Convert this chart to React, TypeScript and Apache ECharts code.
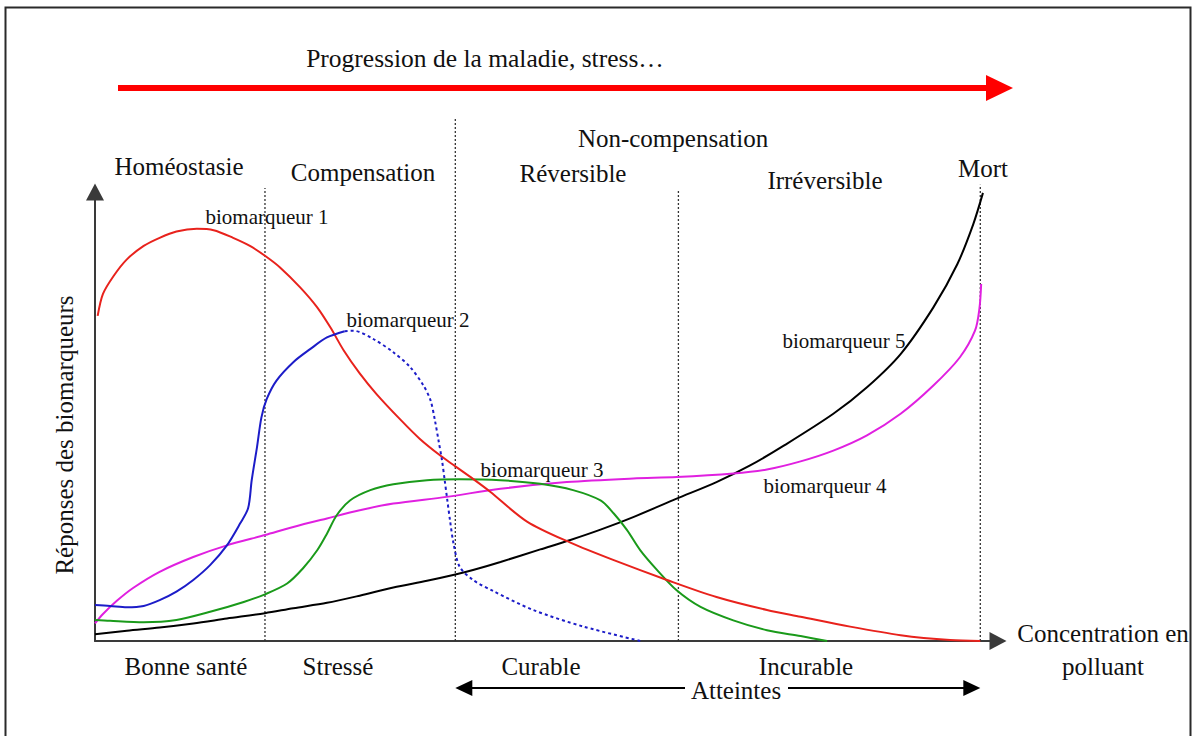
import React, { useEffect, useRef } from "react";
import * as echarts from "echarts";

// Schematic units: x = pollutant concentration (0–100, death at 100), y = biomarker response (0–100)
const biomarqueur1: number[][] = [
  [0.3, 72.4], [0.9, 77.3], [2.1, 81.3], [3.6, 85.0], [5.5, 88.0], [7.3, 89.8], [9.2, 91.2],
  [11.5, 91.8], [13.4, 91.5], [15.6, 89.8], [17.5, 88.0], [19.2, 85.8], [20.9, 83.2], [23.2, 78.7],
  [25.1, 74.3], [26.6, 69.8], [28.1, 64.7], [29.9, 59.6], [31.8, 55.0], [34.5, 49.3], [36.7, 45.0],
  [39.0, 41.3], [40.7, 38.9], [42.7, 36.1], [44.6, 33.3], [48.8, 26.6], [53.7, 21.9], [58.6, 18.0],
  [64.6, 13.6], [70.2, 9.8], [75.9, 6.9], [79.7, 5.4], [85.3, 3.2], [91.0, 1.3], [96.6, 0.2], [100, 0],
];
const biomarqueur2: number[][] = [
  [0, 8.0], [1.7, 7.8], [3.6, 7.5], [5.5, 7.8], [7.3, 9.1], [9.2, 11.0], [11.1, 13.6], [13.0, 16.9],
  [14.9, 21.3], [16.4, 26.2], [17.3, 29.6], [17.7, 35.8], [18.3, 43.2], [18.8, 49.8], [19.4, 53.9],
  [20.5, 58.0], [22.4, 62.1], [24.3, 65.0], [26.2, 67.6], [28.2, 69.0],
];
const biomarqueur2Declin: number[][] = [
  [28.2, 69.0], [29.2, 69.1], [31.4, 67.3], [33.7, 64.3], [35.6, 61.0], [37.1, 56.9], [37.9, 53.6],
  [38.4, 49.1], [38.8, 44.7], [39.2, 40.2], [39.5, 35.8], [39.8, 31.3], [40.1, 26.9], [40.5, 21.7],
  [41.2, 16.5], [42.7, 13.6], [45.0, 11.1], [49.5, 6.9], [55.2, 3.2], [61.6, 0],
];
const biomarqueur3: number[][] = [
  [0, 4.7], [1.7, 4.5], [5.5, 4.2], [9.2, 4.7], [13.0, 6.5], [16.8, 8.7], [19.2, 10.4], [21.7, 12.8],
  [23.5, 16.2], [25.1, 20.2], [26.2, 23.9], [27.3, 28.0], [28.8, 31.3], [31.1, 33.6], [33.7, 34.9],
  [37.5, 35.8], [41.2, 36.0], [45.8, 35.8], [50.3, 35.0], [54.0, 33.6], [57.1, 31.3], [58.6, 28.4],
  [60.1, 24.7], [61.6, 20.2], [63.5, 15.8], [65.7, 11.3], [68.4, 7.6], [72.1, 4.6], [75.9, 2.4],
  [79.7, 1.1], [82.7, 0],
];
const biomarqueur4: number[][] = [
  [0, 3.9], [0.9, 6.0], [2.5, 9.0], [4.3, 11.8], [7.3, 15.4], [11.1, 18.7], [14.9, 21.3], [19.2, 23.6],
  [22.4, 25.4], [26.2, 27.3], [29.9, 29.1], [33.7, 30.6], [39.7, 32.1], [45.8, 33.9], [53.3, 35.4],
  [60.8, 36.2], [65.7, 36.5], [72.1, 37.3], [75.9, 38.2], [79.7, 40.0], [83.4, 42.4], [87.2, 45.8],
  [91.0, 50.6], [94.7, 56.9], [97.7, 63.2], [99.4, 69.1], [99.9, 74.0], [100.1, 79.5],
];
const biomarqueur5: number[][] = [
  [0, 1.5], [3.6, 2.3], [7.3, 3.0], [11.1, 3.9], [14.9, 5.0], [19.2, 6.2], [22.4, 7.3], [26.2, 8.5],
  [29.9, 10.1], [33.7, 11.9], [37.5, 13.4], [40.7, 14.8], [42.7, 15.8], [45.8, 17.6], [50.3, 20.4],
  [53.7, 22.5], [57.1, 24.8], [60.8, 27.6], [65.7, 31.7], [70.2, 35.4], [74.0, 39.1], [77.8, 43.5],
  [83.4, 50.6], [87.2, 56.5], [91.0, 63.9], [94.7, 74.3], [97.4, 83.9], [99.2, 92.8],
  [100.3, 99.8],
];

// Stage boundaries (x) and the height (y) their dotted lines reach
const dividerX = [19.2, 40.7, 65.9, 100];
const dividerTop = [100.9, 116.5, 100.4, 101.6];

const stagesTop = ["Homéostasie", "Compensation", "Réversible", "Irréversible", "Mort"];
const stagesBottom = ["Bonne santé", "Stressé", "Curable", "Incurable"];

const FONT = "'Liberation Serif', 'Times New Roman', Times, serif";

function txt(text: string, x: number, y: number, size: number, extra: any = {}) {
  return {
    type: "text",
    x,
    y,
    z: 20,
    silent: true,
    ...extra,
    style: {
      text,
      fontFamily: FONT,
      fontSize: size,
      fill: "#111",
      align: "center",
      verticalAlign: "middle",
      textAlign: "center",
      textVerticalAlign: "middle",
    },
  };
}

export default function App() {
  const ref = useRef<HTMLDivElement>(null);
  useEffect(() => {
    const chart = echarts.init(ref.current!, null, { renderer: "svg" });
    const mk = (name: string, data: number[][], color: string, dashed = false) => ({
      name,
      type: "line",
      data,
      symbol: "none",
      smooth: 0.3,
      clip: false,
      silent: true,
      lineStyle: { color, width: 2, type: dashed ? [3, 3] : "solid" },
      z: 5,
    });
    chart.setOption({
      animation: false,
      backgroundColor: "#ffffff",
      grid: { left: 95, top: 192, width: 903, height: 449 },
      xAxis: {
        type: "value",
        min: 0,
        max: 102,
        axisLine: {
          show: true,
          onZero: false,
          symbol: ["none", "triangle"],
          symbolSize: [18, 17],
          lineStyle: { color: "#3a3a3a", width: 2 },
        },
        axisTick: { show: false },
        axisLabel: { show: false },
        splitLine: { show: false },
      },
      yAxis: {
        type: "value",
        min: 0,
        max: 100,
        axisLine: {
          show: true,
          onZero: false,
          symbol: ["none", "triangle"],
          symbolSize: [18, 17],
          lineStyle: { color: "#3a3a3a", width: 2 },
        },
        axisTick: { show: false },
        axisLabel: { show: false },
        splitLine: { show: false },
      },
      series: [
        mk("biomarqueur 5", biomarqueur5, "#000000"),
        mk("biomarqueur 4", biomarqueur4, "#e020e0"),
        mk("biomarqueur 3", biomarqueur3, "#1a9a1a"),
        mk("biomarqueur 1", biomarqueur1, "#e8221c"),
        mk("biomarqueur 2", biomarqueur2, "#1c1cc8"),
        mk("biomarqueur 2 (déclin)", biomarqueur2Declin, "#1c1cc8", true),
      ],
    });

    const px = (x: number, y: number) => chart.convertToPixel({ gridIndex: 0 }, [x, y]) as number[];
    const g: any[] = [];
    // frame
    g.push({
      type: "rect",
      shape: { x: 5.5, y: 7.5, width: 1185, height: 760 },
      style: { fill: "none", stroke: "#2a2a2a", lineWidth: 2 },
      silent: true,
    });
    // stage dividers
    dividerX.forEach((dx, i) => {
      const a = px(dx, 0);
      const b = px(dx, dividerTop[i]);
      g.push({
        type: "line",
        shape: { x1: a[0], y1: a[1], x2: b[0], y2: b[1] },
        style: { stroke: "#333", lineWidth: 1.3, lineDash: [2, 2] },
        silent: true,
        z: 1,
      });
    });
    // progression arrow
    g.push({
      type: "line",
      shape: { x1: 118, y1: 88, x2: 990, y2: 88 },
      style: { stroke: "#ff0000", lineWidth: 6 },
      silent: true,
    });
    g.push({
      type: "polygon",
      shape: { points: [[986, 75], [1013, 88], [986, 101]] },
      style: { fill: "#ff0000" },
      silent: true,
    });
    // Atteintes double arrow
    const aL = px(dividerX[1], 0)[0];
    const aR = px(dividerX[3], 0)[0];
    g.push({ type: "line", shape: { x1: aL + 10, y1: 688, x2: 685, y2: 688 }, style: { stroke: "#000", lineWidth: 2 }, silent: true });
    g.push({ type: "line", shape: { x1: 788, y1: 688, x2: aR - 10, y2: 688 }, style: { stroke: "#000", lineWidth: 2 }, silent: true });
    g.push({ type: "polygon", shape: { points: [[aL, 688], [aL + 17, 680], [aL + 17, 696]] }, style: { fill: "#000" }, silent: true });
    g.push({ type: "polygon", shape: { points: [[aR, 688], [aR - 17, 680], [aR - 17, 696]] }, style: { fill: "#000" }, silent: true });

    // texts
    g.push(txt("Progression de la maladie, stress…", 485, 58, 25.5));
    g.push(txt("Non-compensation", 673, 138, 25));
    const topPos = [[179, 166], [363, 172], [573, 173], [825, 180], [983, 168]];
    stagesTop.forEach((s, i) => g.push(txt(s, topPos[i][0], topPos[i][1], 25)));
    const botPos = [[186, 666], [338, 666], [541, 666], [806, 666]];
    stagesBottom.forEach((s, i) => g.push(txt(s, botPos[i][0], botPos[i][1], 25)));
    g.push(txt("Atteintes", 736, 690, 25));
    g.push(txt("Concentration en", 1103, 633, 25));
    g.push(txt("polluant", 1103, 666, 25));
    g.push(txt("Réponses des biomarqueurs", 64, 435, 25, { rotation: Math.PI / 2 }));
    g.push(txt("biomarqueur 1", 267, 217, 21));
    g.push(txt("biomarqueur 2", 408, 320, 21));
    g.push(txt("biomarqueur 3", 542, 470, 21));
    g.push(txt("biomarqueur 4", 825, 486, 21));
    g.push(txt("biomarqueur 5", 844, 341, 21));

    chart.setOption({ graphic: g });
    return () => chart.dispose();
  }, []);
  return <div ref={ref} style={{ position: "absolute", left: 0, top: 0, width: 1195, height: 736 }} />;
}
